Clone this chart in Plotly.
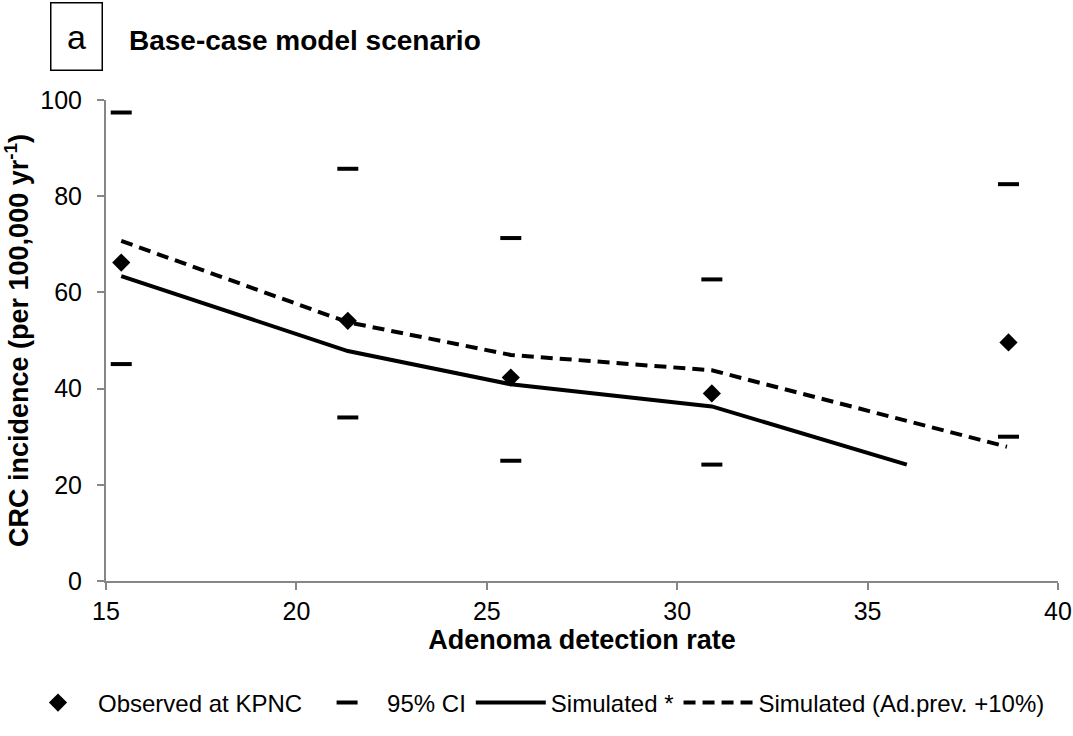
import plotly.graph_objects as go

# Data
obs_x = [15.4, 21.35, 25.63, 30.91, 38.7]
obs_y = [66.2, 54.1, 42.3, 39.0, 49.6]
ci_low = [45.1, 34.0, 25.0, 24.2, 30.0]
ci_high = [97.4, 85.7, 71.3, 62.7, 82.5]
sim_x = [15.4, 21.35, 25.63, 30.91, 36.03]
sim_y = [63.4, 47.8, 40.9, 36.3, 24.2]
adp_x = [15.4, 21.35, 25.63, 30.91, 38.66]
adp_y = [70.7, 53.8, 47.0, 43.8, 27.9]
x_ticks = [15, 20, 25, 30, 35, 40]
y_ticks = [0, 20, 40, 60, 80, 100]

FONT = "Liberation Sans, Arial, sans-serif"

fig = go.Figure()
fig.add_trace(go.Scatter(
    x=obs_x, y=obs_y, mode="markers", name="Observed at KPNC",
    marker=dict(symbol="diamond", size=14, color="black"),
))
fig.add_trace(go.Scatter(
    x=obs_x + obs_x, y=ci_high + ci_low, mode="markers", name="95% CI",
    marker=dict(symbol="line-ew", size=15, color="black",
                line=dict(width=4, color="black")),
))
fig.add_trace(go.Scatter(
    x=sim_x, y=sim_y, mode="lines", name="Simulated *",
    line=dict(color="black", width=4),
))
fig.add_trace(go.Scatter(
    x=adp_x, y=adp_y, mode="lines", name="Simulated (Ad.prev. +10%)",
    line=dict(color="black", width=4, dash="12px,7px"),
))

L, R, T, B = 106, 15, 100, 155
W, H = 1073, 736
pw, ph = W - L - R, H - T - B

def px(x):
    return (x - L) / pw

def py(y):
    return (H - B - y) / ph

axis_common = dict(showgrid=False, zeroline=False, showline=True, linecolor="#868686",
                   linewidth=2, ticks="outside", tickcolor="#868686", ticklen=7,
                   tickwidth=2, tickfont=dict(size=25), automargin=False)

fig.update_layout(
    template="none",
    width=W, height=H,
    margin=dict(l=L, r=R, t=T, b=B, autoexpand=False),
    paper_bgcolor="white", plot_bgcolor="white",
    font=dict(family=FONT, size=18, color="black"),
    showlegend=True,
    legend=dict(orientation="h", x=px(18), xanchor="left", y=py(703), yanchor="middle",
                font=dict(size=24), itemwidth=70, bgcolor="rgba(0,0,0,0)"),
    xaxis=dict(range=[15, 40], tickvals=x_ticks, ticklabelstandoff=0,
               title=dict(text="<b>Adenoma detection rate</b>", font=dict(size=27), standoff=0),
               **axis_common),
    yaxis=dict(range=[0, 100], tickvals=y_ticks, ticklabelstandoff=10,
               title=dict(text="<b>CRC incidence (per 100,000 yr<sup>-1</sup>)</b>",
                          font=dict(size=27), standoff=4),
               **axis_common),
    annotations=[
        dict(text="a", xref="paper", yref="paper", x=px(76), y=py(37),
             xanchor="center", yanchor="middle", showarrow=False,
             font=dict(size=34), bordercolor="black", borderwidth=1.5,
             width=50, height=66, borderpad=0),
        dict(text="<b>Base-case model scenario</b>", xref="paper", yref="paper",
             x=px(127), y=py(40), xanchor="left", yanchor="middle", showarrow=False,
             font=dict(size=28)),
    ],
)

fig.write_html(
    "out.html",
    config={"displayModeBar": False},
    post_script="document.body.style.margin='0';document.body.style.overflow='hidden';",
)
